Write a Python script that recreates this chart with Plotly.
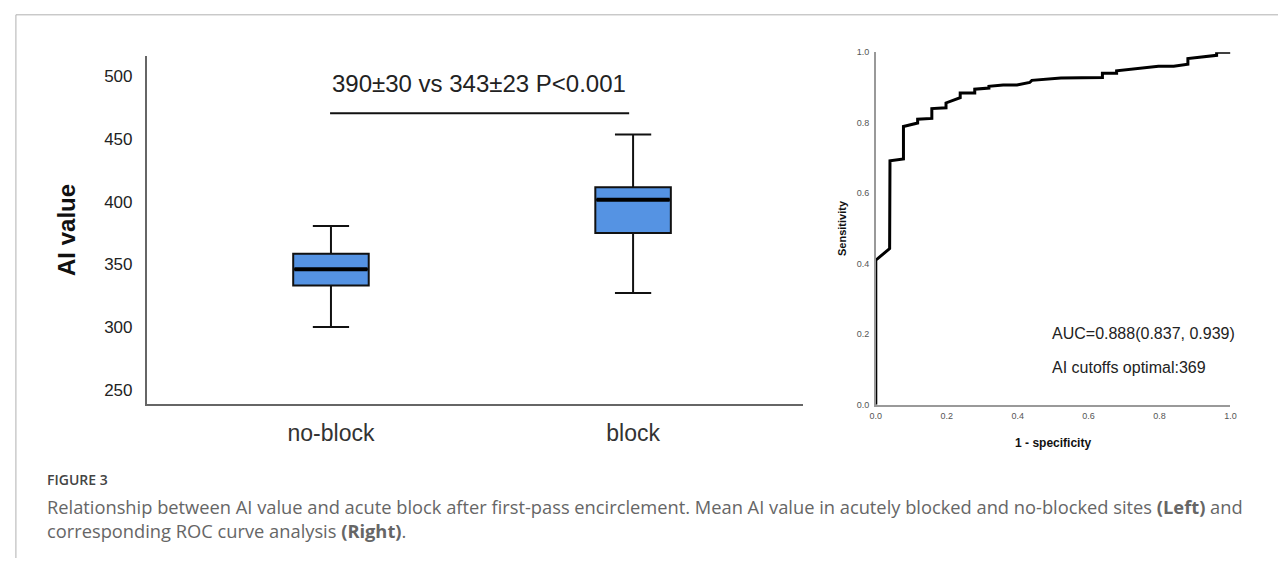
import plotly.graph_objects as go

W, H = 1284, 563

# ---------------- data ----------------
categories = ["no-block", "block"]
positions = [0, 1]
lower_whisker = [300, 327]
q1_vals = [333, 375]
median_vals = [346, 401.5]
q3_vals = [358.5, 411.5]
upper_whisker = [380.5, 453.5]
y_ticks = [250, 300, 350, 400, 450, 500]
stat_text = "390±30 vs 343±23 P<0.001"

fpr = [0.0, 0.0, 0.039, 0.040, 0.078, 0.078, 0.118, 0.118, 0.158, 0.158, 0.198, 0.198,
       0.238, 0.238, 0.279, 0.279, 0.319, 0.319, 0.359, 0.398, 0.434, 0.440, 0.522, 0.639,
       0.639, 0.679, 0.679, 0.797, 0.840, 0.880, 0.880, 0.919, 0.961, 0.961, 1.0]
tpr = [0.0, 0.410, 0.443, 0.692, 0.697, 0.789, 0.799, 0.810, 0.812, 0.840, 0.842, 0.856,
       0.871, 0.884, 0.884, 0.895, 0.898, 0.903, 0.907, 0.907, 0.914, 0.920, 0.927, 0.928,
       0.940, 0.940, 0.947, 0.960, 0.960, 0.966, 0.982, 0.987, 0.991, 1.0, 1.0]
roc_ticks = [0.0, 0.2, 0.4, 0.6, 0.8, 1.0]
auc_text = "AUC=0.888(0.837, 0.939)"
cutoff_text = "AI cutoffs optimal:369"

caption_title = "FIGURE 3"
caption_lines = [
    "Relationship between AI value and acute block after first-pass encirclement. Mean AI value in acutely blocked and no-blocked sites <b>(Left)</b> and",
    "corresponding ROC curve analysis <b>(Right)</b>.",
]

# ---------------- styles ----------------
FONT = "Arial, Liberation Sans, sans-serif"
BOX_W = 0.25
BOX_FILL = "#5593E3"

def px_x(px):
    return px / W

def px_y(py):
    return 1 - py / H

fig = go.Figure()

for i, cat in enumerate(categories):
    fig.add_trace(go.Box(
        x=[positions[i]], q1=[q1_vals[i]], median=[median_vals[i]], q3=[q3_vals[i]],
        lowerfence=[lower_whisker[i]], upperfence=[upper_whisker[i]],
        width=BOX_W, whiskerwidth=0.48, fillcolor=BOX_FILL,
        line=dict(color="#111111", width=2), boxpoints=False,
        showlegend=False, hoverinfo="skip", xaxis="x", yaxis="y",
    ))
    fig.add_trace(go.Scatter(
        x=[positions[i] - BOX_W / 2 + 0.004, positions[i] + BOX_W / 2 - 0.004],
        y=[median_vals[i], median_vals[i]], mode="lines",
        line=dict(color="#000000", width=4), showlegend=False, hoverinfo="skip",
        xaxis="x", yaxis="y",
    ))

fig.add_trace(go.Scatter(
    x=fpr, y=tpr, mode="lines", line=dict(color="#000000", width=3),
    showlegend=False, hoverinfo="skip", xaxis="x2", yaxis="y2",
))

fig.update_layout(
    width=W, height=H, margin=dict(l=0, r=0, t=0, b=0),
    paper_bgcolor="white", plot_bgcolor="white",
    font=dict(family=FONT, color="#222222"),
    xaxis=dict(
        domain=[px_x(142), px_x(805)], range=[-0.61, 1.564],
        tickvals=positions, ticktext=categories, tickfont=dict(size=23, color="#333333"),
        showline=True, linecolor="#666666", linewidth=1.5, showgrid=False, zeroline=False,
        ticks="", ticklabelstandoff=7, fixedrange=True,
    ),
    yaxis=dict(
        domain=[px_y(406.5), px_y(51.5)], range=[238.3, 516.5],
        tickvals=y_ticks, tickfont=dict(size=17, color="#222222"),
        showline=True, linecolor="#666666", linewidth=1.5, showgrid=False, zeroline=False,
        ticks="", ticklabelstandoff=9,
        title=dict(text="<b>AI value</b>", font=dict(size=24, color="#111111"), standoff=22),
    ),
    xaxis2=dict(
        domain=[px_x(878), px_x(1236)], range=[0, 1], anchor="y2",
        tickvals=roc_ticks, tickformat=".1f", tickfont=dict(size=9, color="#555555"),
        showline=True, linecolor="#999999", linewidth=1.5, showgrid=False, zeroline=False,
        ticks="", ticklabelstandoff=2,
        title=dict(text="<b>1 - specificity</b>", font=dict(size=12, color="#111111"), standoff=18),
    ),
    yaxis2=dict(
        domain=[px_y(407), px_y(48)], range=[0, 1], anchor="x2",
        tickvals=roc_ticks, tickformat=".1f", tickfont=dict(size=9, color="#555555"),
        showline=True, linecolor="#999999", linewidth=1.5, showgrid=False, zeroline=False,
        ticks="", ticklabelstandoff=3,
        title=dict(text="<b>Sensitivity</b>", font=dict(size=11, color="#111111"), standoff=8),
    ),
)

# significance bar and text
fig.add_shape(type="line", xref="x", yref="y", x0=-0.003, x1=0.987, y0=470.5, y1=470.5,
              line=dict(color="#111111", width=2))
fig.add_annotation(xref="x", yref="y", x=0.489, y=494, text=stat_text, showarrow=False,
                   font=dict(size=24, color="#222222"), xanchor="center", yanchor="middle")

# ROC texts
fig.add_annotation(xref="x2", yref="y2", x=0.49, y=0.203, text=auc_text, showarrow=False,
                   font=dict(size=16, color="#222222"), xanchor="left", yanchor="middle")
fig.add_annotation(xref="x2", yref="y2", x=0.49, y=0.105, text=cutoff_text, showarrow=False,
                   font=dict(size=16, color="#222222"), xanchor="left", yanchor="middle")

# caption
CAP_FONT = "Open Sans, sans-serif"
fig.add_annotation(xref="paper", yref="paper", x=px_x(39), y=px_y(483), text=caption_title,
                   showarrow=False, xanchor="left", yanchor="middle",
                   font=dict(family=CAP_FONT, size=14, color="#444444", weight=600))
fig.add_annotation(xref="paper", yref="paper", x=px_x(39), y=px_y(496), text="<br>".join(caption_lines),
                   showarrow=False, xanchor="left", yanchor="top", align="left",
                   font=dict(family=CAP_FONT, size=18.3, color="#666666"))

# frame lines
fig.add_shape(type="line", xref="paper", yref="paper", x0=px_x(10), x1=1, y0=px_y(10), y1=px_y(10),
              line=dict(color="#b0b0b0", width=1))
fig.add_shape(type="line", xref="paper", yref="paper", x0=px_x(10), x1=px_x(10), y0=0, y1=px_y(10),
              line=dict(color="#b0b0b0", width=1))

fig.write_html("out.html")
